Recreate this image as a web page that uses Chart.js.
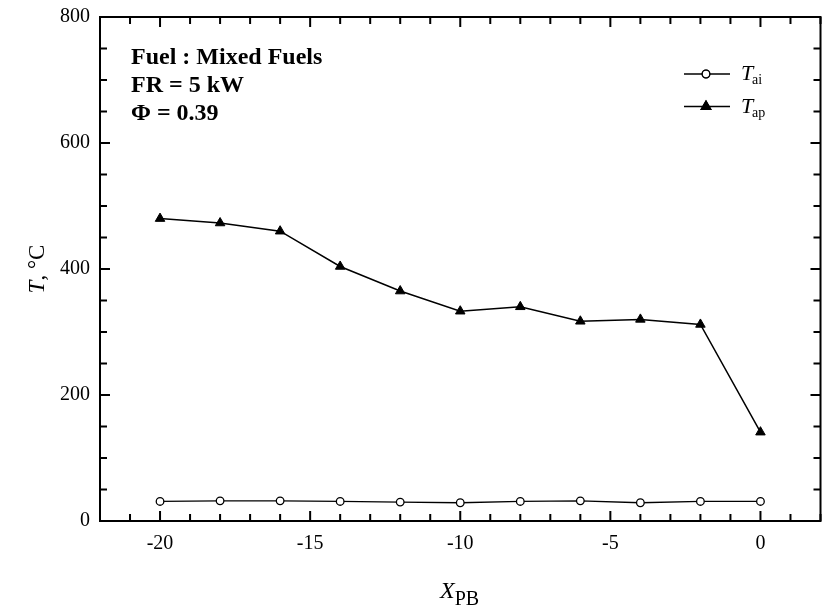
<!DOCTYPE html>
<html>
<head>
<meta charset="utf-8">
<script src="https://cdn.jsdelivr.net/npm/chart.js@4/dist/chart.umd.min.js"></script>
<style>
  html, body { margin: 0; padding: 0; background: #fff; }
  #wrap { width: 827px; height: 614px; }
</style>
</head>
<body>
<div id="wrap"><canvas id="chart" width="827" height="614"></canvas></div>
<script>
// Data
const xPositions = [-20, -18, -16, -14, -12, -10, -8, -6, -4, -2, 0];
const tAi = [31, 32, 32, 31, 30, 29, 31, 32, 29, 31, 31];
const tAp = [480, 473, 460, 404, 365, 333, 340, 317, 320, 312, 141];

const xTickLabels = [-20, -15, -10, -5, 0];
const yTickLabels = [0, 200, 400, 600, 800];
const notes = ['Fuel : Mixed Fuels', 'FR = 5 kW', '\u03A6 = 0.39'];

const serif = '"Liberation Serif", "Times New Roman", serif';

// Inward ticks on all four sides, box frame, labels drawn by hand
const framePlugin = {
  id: 'frame',
  afterDraw(chart) {
    const { ctx, chartArea: a, scales } = chart;
    const xs = scales.x, ys = scales.y;
    ctx.save();
    ctx.strokeStyle = '#000';
    ctx.lineWidth = 2;
    ctx.strokeRect(a.left, a.top, a.right - a.left, a.bottom - a.top);

    // x ticks every 1, longer every 5
    for (let v = Math.ceil(xs.min); v <= xs.max; v++) {
      const px = xs.getPixelForValue(v);
      const len = v % 5 === 0 ? 10 : 7;
      ctx.beginPath();
      ctx.moveTo(px, a.bottom); ctx.lineTo(px, a.bottom - len);
      ctx.moveTo(px, a.top); ctx.lineTo(px, a.top + len);
      ctx.stroke();
    }
    // y ticks every 50, longer every 200
    for (let v = 0; v <= ys.max; v += 50) {
      const py = ys.getPixelForValue(v);
      const len = v % 200 === 0 ? 10 : 7;
      ctx.beginPath();
      ctx.moveTo(a.left, py); ctx.lineTo(a.left + len, py);
      ctx.moveTo(a.right, py); ctx.lineTo(a.right - len, py);
      ctx.stroke();
    }

    // notes in the top left corner
    ctx.fillStyle = '#000';
    ctx.font = 'bold 24px ' + serif;
    ctx.textAlign = 'left';
    ctx.textBaseline = 'alphabetic';
    notes.forEach((t, i) => ctx.fillText(t, 131, 64 + i * 28));

    // legend
    const legendItems = [
      { sub: 'ai', style: 'circle', fill: '#fff', r: 3.8 },
      { sub: 'ap', style: 'triangle', fill: '#000', r: 5.5 }
    ];
    legendItems.forEach((it, i) => {
      const ly = 74 + i * 32.5;
      ctx.strokeStyle = '#000';
      ctx.lineWidth = 1.3;
      ctx.beginPath();
      ctx.moveTo(684, ly); ctx.lineTo(730, ly);
      ctx.stroke();
      ctx.fillStyle = it.fill;
      Chart.helpers.drawPoint(ctx, { pointStyle: it.style, radius: it.r, borderWidth: 1.3 }, 706, ly);
      ctx.fill();
      ctx.stroke();
      ctx.fillStyle = '#000';
      ctx.font = 'italic 22px ' + serif;
      ctx.fillText('T', 741, ly + 6);
      ctx.font = '14px ' + serif;
      ctx.fillText(it.sub, 752, ly + 10);
    });

    // axis titles
    ctx.font = 'italic 24px ' + serif;
    const xTitleX = 440;
    ctx.fillText('X', xTitleX, 598);
    const wX = ctx.measureText('X').width;
    ctx.font = '20px ' + serif;
    ctx.fillText('PB', xTitleX + wX, 605);

    ctx.translate(44, (a.top + a.bottom) / 2);
    ctx.rotate(-Math.PI / 2);
    const rest = ', \u00B0C';
    ctx.font = 'italic 23px ' + serif;
    const wT = ctx.measureText('T').width;
    ctx.font = '23px ' + serif;
    const wR = ctx.measureText(rest).width;
    const start = -(wT + wR) / 2;
    ctx.font = 'italic 23px ' + serif;
    ctx.fillText('T', start, 0);
    ctx.font = '23px ' + serif;
    ctx.fillText(rest, start + wT, 0);
    ctx.restore();
  }
};

new Chart(document.getElementById('chart'), {
  type: 'line',
  data: {
    datasets: [
      {
        label: 'Tai',
        data: xPositions.map((x, i) => ({ x, y: tAi[i] })),
        borderColor: '#000',
        borderWidth: 1.3,
        pointStyle: 'circle',
        pointRadius: 3.8,
        pointBackgroundColor: '#fff',
        pointBorderColor: '#000',
        pointBorderWidth: 1.3,
        tension: 0
      },
      {
        label: 'Tap',
        data: xPositions.map((x, i) => ({ x, y: tAp[i] })),
        borderColor: '#000',
        borderWidth: 1.5,
        pointStyle: 'triangle',
        pointRadius: 5.5,
        pointBackgroundColor: '#000',
        pointBorderColor: '#000',
        pointBorderWidth: 1,
        tension: 0
      }
    ]
  },
  options: {
    responsive: false,
    animation: false,
    devicePixelRatio: 1,
    layout: { padding: { top: 17, right: 6, left: 0, bottom: 0 } },
    plugins: { legend: { display: false }, tooltip: { enabled: false } },
    scales: {
      x: {
        type: 'linear',
        min: -22,
        max: 2,
        grid: { display: false, drawTicks: false },
        border: { display: false },
        afterBuildTicks: s => { s.ticks = xTickLabels.map(v => ({ value: v })); },
        afterFit: s => { s.height = 93; s.paddingLeft = 0; s.paddingRight = 0; },
        ticks: {
          color: '#000',
          padding: 11,
          maxRotation: 0,
          font: { family: serif, size: 20 }
        }
      },
      y: {
        min: 0,
        max: 800,
        grid: { display: false, drawTicks: false },
        border: { display: false },
        afterBuildTicks: s => { s.ticks = yTickLabels.map(v => ({ value: v })); },
        afterFit: s => { s.width = 100; s.paddingTop = 0; s.paddingBottom = 0; },
        ticks: {
          color: '#000',
          padding: 10,
          font: { family: serif, size: 20 }
        }
      }
    }
  },
  plugins: [framePlugin]
});
</script>
</body>
</html>
